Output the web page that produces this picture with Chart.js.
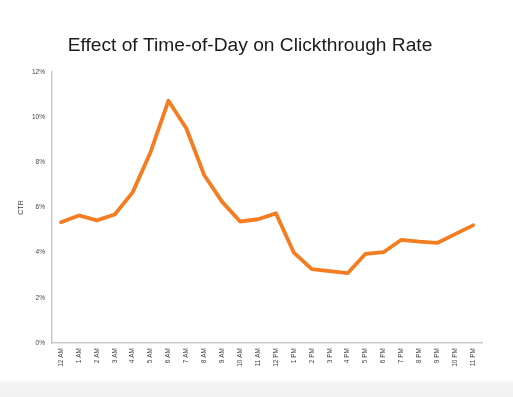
<!DOCTYPE html>
<html>
<head>
<meta charset="utf-8">
<script src="https://cdn.jsdelivr.net/npm/chart.js@4"></script>
<style>
  html, body { margin: 0; padding: 0; background: #ffffff; }
  #wrap { width: 513px; height: 397px; position: relative; }
</style>
</head>
<body>
<div id="wrap"><canvas id="c" width="513" height="397"></canvas></div>
<script>
const categories = ["12 AM","1 AM","2 AM","3 AM","4 AM","5 AM","6 AM","7 AM","8 AM","9 AM","10 AM","11 AM",
                    "12 PM","1 PM","2 PM","3 PM","4 PM","5 PM","6 PM","7 PM","8 PM","9 PM","10 PM","11 PM"];
const ctrValues = [5.35, 5.65, 5.43, 5.69, 6.67, 8.45, 10.73, 9.5, 7.43, 6.25, 5.38, 5.48,
                   5.74, 4.0, 3.27, 3.18, 3.09, 3.95, 4.02, 4.57, 4.49, 4.43, 4.82, 5.21];
const yTickValues = [0, 2, 4, 6, 8, 10, 12];
const chartTitle = "Effect of Time-of-Day on Clickthrough Rate";
const yAxisTitle = "CTR";

const bgPlugin = {
  id: 'bg',
  beforeDraw(chart) {
    const ctx = chart.ctx;
    ctx.save();
    ctx.fillStyle = '#ffffff';
    ctx.fillRect(0, 0, chart.width, chart.height);
    const g = ctx.createLinearGradient(0, 379, 0, 397);
    g.addColorStop(0, '#fbfbfb');
    g.addColorStop(0.3, '#f4f4f4');
    g.addColorStop(1, '#f2f2f2');
    ctx.fillStyle = g;
    ctx.fillRect(0, 381, chart.width, chart.height - 381);
    ctx.restore();
  },
  afterDraw(chart) {
    const ctx = chart.ctx;
    ctx.save();
    ctx.fillStyle = '#1b1b1b';
    ctx.font = 'normal 19.2px "Liberation Sans"';
    ctx.textAlign = 'center';
    ctx.textBaseline = 'middle';
    ctx.fillText(chartTitle, 250, 46);
    ctx.restore();
  }
};

new Chart(document.getElementById('c'), {
  type: 'line',
  data: {
    labels: categories,
    datasets: [{
      data: ctrValues,
      borderColor: '#F47D22',
      borderWidth: 3.8,
      borderCapStyle: 'round',
      borderJoinStyle: 'round',
      pointRadius: 0,
      tension: 0,
      fill: false
    }]
  },
  options: {
    responsive: false,
    animation: false,
    layout: { padding: { left: 17, right: 31, top: 72, bottom: 0 } },
    plugins: {
      legend: { display: false },
      tooltip: { enabled: false },
      title: { display: false }
    },
    scales: {
      x: {
        offset: true,
        grid: { display: false, drawTicks: false },
        border: { display: true, color: '#c9c9c9', width: 1.5 },
        ticks: {
          minRotation: 90, maxRotation: 90, autoSkip: false,
          padding: 5,
          color: '#444444',
          font: { family: 'Liberation Sans', size: 6.5 }
        },
        afterFit(scale) { scale.height = 54; }
      },
      y: {
        min: 0, max: 12,
        afterBuildTicks(scale) { scale.ticks = yTickValues.map(v => ({ value: v })); },
        grid: { display: false, drawTicks: false },
        border: { display: true, color: '#c9c9c9', width: 1.5 },
        title: {
          display: true, text: yAxisTitle, color: '#444444',
          font: { family: 'Liberation Sans', size: 7 }, padding: { top: 0, bottom: 0 }
        },
        ticks: {
          padding: 7,
          color: '#444444',
          font: { family: 'Liberation Sans', size: 6.5 },
          callback: (v) => v + '%'
        },
        afterFit(scale) { scale.width = 35; }
      }
    }
  },
  plugins: [bgPlugin]
});
</script>
</body>
</html>
